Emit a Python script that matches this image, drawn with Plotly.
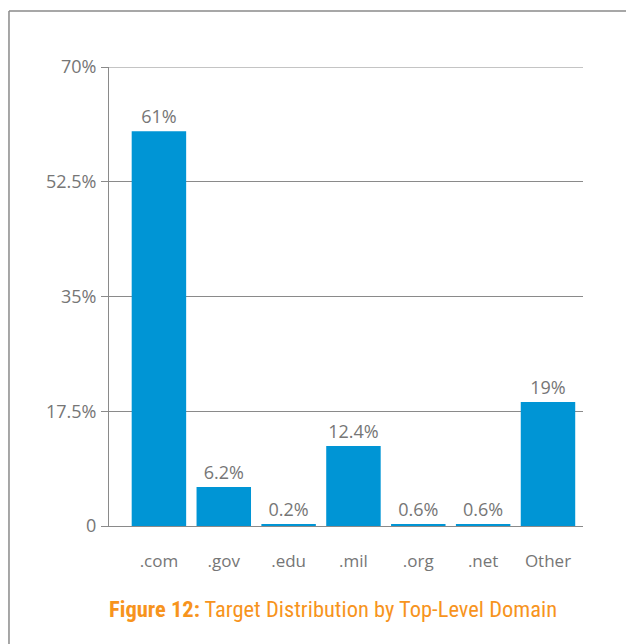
import plotly.graph_objects as go

categories = [".com", ".gov", ".edu", ".mil", ".org", ".net", "Other"]
# bar heights as drawn in the picture (labels as printed on the chart)
bar_heights = [60.2, 5.95, 0.2, 12.2, 0.22, 0.22, 18.9]
value_labels = ["61%", "6.2%", "0.2%", "12.4%", "0.6%", "0.6%", "19%"]
y_ticks = [0, 17.5, 35, 52.5, 70]
y_tick_labels = ["0", "17.5%", "35%", "52.5%", "70%"]
x_tick_marks = [-0.05, 1.45, 2.92, 4.43, 5.85]

GRAY = "#8a8a8a"
TXT = "#767676"
BLUE = "#0095d5"
ORANGE = "#f7941d"

fig = go.Figure()
fig.add_trace(go.Bar(
    x=list(range(len(categories))), y=bar_heights,
    marker=dict(color=BLUE, line=dict(width=0)),
    width=0.84,
    text=value_labels, textposition="outside",
    textfont=dict(family="Open Sans", size=18, color=TXT),
    cliponaxis=False,
))

shapes = []
# top gridline at 70%
shapes.append(dict(type="line", xref="paper", yref="y", x0=0, x1=1, y0=y_ticks[-1], y1=y_ticks[-1],
                   line=dict(color=GRAY, width=1), layer="below"))
# odd x-axis tick marks
for t in x_tick_marks:
    shapes.append(dict(type="line", xref="x", yref="y", x0=t, x1=t, y0=0, y1=-1.0,
                       line=dict(color=GRAY, width=1)))
# y-axis extension below baseline
shapes.append(dict(type="line", xref="paper", yref="y", x0=0, x1=0, y0=0, y1=-0.9,
                   line=dict(color=GRAY, width=1)))
# frame border (top and left)
shapes.append(dict(type="line", xref="paper", yref="paper", x0=-0.211, x1=1.2,
                   y0=1.122, y1=1.122, line=dict(color=GRAY, width=1.5)))
shapes.append(dict(type="line", xref="paper", yref="paper", x0=-0.211, x1=-0.211,
                   y0=1.122, y1=-0.3, line=dict(color=GRAY, width=1.5)))

fig.update_layout(
    width=626, height=636,
    margin=dict(l=101, r=51, t=59, b=118),
    paper_bgcolor="white", plot_bgcolor="white",
    showlegend=False,
    shapes=shapes,
    xaxis=dict(
        range=[-0.77, 6.54],
        tickmode="array", tickvals=list(range(len(categories))), ticktext=categories,
        ticks="", showgrid=False, zeroline=False,
        showline=True, linecolor=GRAY, linewidth=1,
        tickfont=dict(family="Open Sans", size=17, color=TXT),
        ticklabelstandoff=20,
    ),
    yaxis=dict(
        range=[0, 70],
        tickmode="array", tickvals=y_ticks, ticktext=y_tick_labels,
        ticks="outside", ticklen=7, tickcolor=GRAY, tickwidth=1,
        showgrid=True, gridcolor=GRAY, gridwidth=1,
        zeroline=False,
        showline=True, linecolor=GRAY, linewidth=1,
        tickfont=dict(family="Open Sans", size=18, color=TXT),
        ticklabelstandoff=1,
    ),
    annotations=[dict(
        xref="paper", yref="paper", x=0.472, y=-0.18, xanchor="center", yanchor="middle",
        showarrow=False,
        text="<b>Figure 12:</b> Target Distribution by Top-Level Domain",
        font=dict(family="Liberation Sans Narrow, Roboto Condensed, Roboto", size=22.5, color=ORANGE),
    )],
)

fig.write_html("out.html")
